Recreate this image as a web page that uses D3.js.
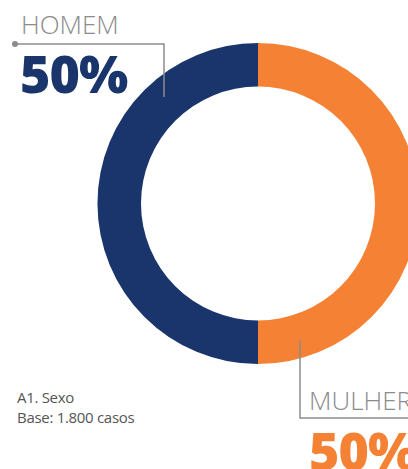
<!DOCTYPE html>
<html><head><meta charset="utf-8">
<script src="https://cdn.jsdelivr.net/npm/d3@7"></script>
<style>html,body{margin:0;padding:0;background:#fff;overflow:hidden}</style>
</head><body>
<script>
const categories = ["MULHER", "HOMEM"];
const values = [50, 50];
const valueLabels = ["50%", "50%"];
const colors = ["#f58134", "#1a356b"];
const notes = ["A1. Sexo", "Base: 1.800 casos"];

const W = 408, H = 469;
const svg = d3.select("body").append("svg").attr("width", W).attr("height", H);
const cx = 258, cy = 203.5, rOuter = 160.5, rInner = 117;
const pie = d3.pie().sort(null).value(d => d.v);
const data = pie(categories.map((c, i) => ({c, v: values[i], col: colors[i]})));
const arc = d3.arc().innerRadius(rInner).outerRadius(rOuter);
svg.append("g").attr("transform", `translate(${cx},${cy})`)
  .selectAll("path").data(data).join("path")
  .attr("d", arc).attr("fill", d => d.data.col);

const font = "'Open Sans', sans-serif";
const gray = "#8c8c8c";
// HOMEM leader
svg.append("path").attr("d", "M15,44 H164 V97").attr("fill", "none").attr("stroke", gray).attr("stroke-width", 1.5);
svg.append("circle").attr("cx", 15).attr("cy", 44).attr("r", 3).attr("fill", gray);
svg.append("text").attr("x", 21).attr("y", 34).attr("font-family", font).attr("font-size", 26).attr("font-weight", 300)
  .attr("fill", gray).text(categories[1]);
svg.append("text").attr("x", 20).attr("y", 93).attr("font-family", font).attr("font-size", 52).attr("font-weight", 800)
  .attr("fill", colors[1]).attr("letter-spacing", -1).text(valueLabels[1]);
// MULHER leader
svg.append("path").attr("d", "M300,340 V418 H410").attr("fill", "none").attr("stroke", gray).attr("stroke-width", 1.5);
svg.append("text").attr("x", 309).attr("y", 410).attr("font-family", font).attr("font-size", 26).attr("font-weight", 300)
  .attr("fill", gray).text(categories[0]);
svg.append("text").attr("x", 309).attr("y", 470).attr("font-family", font).attr("font-size", 52).attr("font-weight", 800)
  .attr("fill", colors[0]).attr("letter-spacing", -1).text(valueLabels[0]);
// notes
svg.selectAll("text.note").data(notes).join("text").attr("class", "note")
  .attr("x", 17).attr("y", (d, i) => 403 + i * 20)
  .attr("font-family", font).attr("font-size", 15).attr("letter-spacing", -0.3).attr("fill", "#555").text(d => d);
</script>
</body></html>
